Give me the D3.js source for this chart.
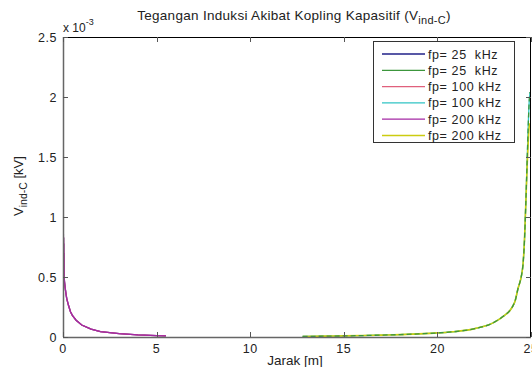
<!DOCTYPE html>
<html><head><meta charset="utf-8">
<script src="https://cdn.jsdelivr.net/npm/d3@7"></script>
<style>body{margin:0;background:#fff}text{font-family:"Liberation Sans",Arial,sans-serif;fill:#222}</style>
</head><body>
<svg id="c" width="532" height="367"></svg>
<script>
// Data (values in 1e-3 kV)
const seriesNames = ["fp= 25  kHz","fp= 25  kHz","fp= 100 kHz","fp= 100 kHz","fp= 200 kHz","fp= 200 kHz"];
const seriesColors = ["#202088","#3c963c","#e0607c","#30c4c4","#a428a4","#cccc10"];
const xTicks = [0,5,10,15,20,25];
const yTicks = [0,0.5,1,1.5,2,2.5];
const yTickLabels = ["0","0.5","1","1.5","2","2.5"];
// Left-end curve
const leftX = [0.02,0.025,0.03,0.035,0.04,0.045,0.05,0.06,0.08,0.1,0.15,0.2,0.3,0.4,0.5,0.7,1.0,1.5,2,3,4,5,5.5];
const leftV = [0.86,0.55,0.83,0.52,0.78,0.5,0.7,0.5,0.46,0.43,0.37,0.32,0.26,0.21,0.18,0.14,0.1,0.065,0.045,0.028,0.018,0.012,0.01];
// Right-end curve
const rightX = [12.8,14,15,16,17,18,19,20,21,22,23,23.5,24,24.15,24.3,24.5,24.57,24.65,24.72,24.8,24.85,24.9,24.95];
const rightV = [0.004,0.007,0.009,0.012,0.016,0.02,0.026,0.034,0.046,0.07,0.12,0.17,0.25,0.3,0.4,0.52,0.6,0.8,1.1,1.5,1.75,1.95,2.04];
const rightVy = [0.004,0.007,0.009,0.012,0.016,0.02,0.026,0.034,0.046,0.07,0.12,0.17,0.25,0.3,0.4,0.52,0.6,0.8,1.1,1.45,1.62,1.75,1.78];

const data = [
  {i:0, x:leftX, v:leftV},
  {i:1, x:rightX, v:rightV},
  {i:2, x:leftX, v:leftV},
  {i:3, x:rightX, v:rightV},
  {i:4, x:leftX, v:leftV},
  {i:5, x:rightX, v:rightVy}
];

const svg = d3.select("#c");
const L=63, R=531, T=37, B=337;
const x = d3.scaleLinear().domain([0,25]).range([L,R]);
const y = d3.scaleLinear().domain([0,2.5]).range([B,T]);

const order = [0,2,4,3,5,1];
const lineSmooth = d3.line().x(d=>x(d[0])).y(d=>y(d[1])).curve(d3.curveMonotoneX);
const lineRaw = d3.line().x(d=>x(d[0])).y(d=>y(d[1]));
svg.append("clipPath").attr("id","cp").append("rect").attr("x",L).attr("y",T).attr("width",R-L).attr("height",B-T);
const g = svg.append("g").attr("clip-path","url(#cp)");
order.forEach(k=>{
  const s = data[k];
  const pts = s.x.map((xv,j)=>[xv,s.v[j]]);
  const ln = (s.i % 2 === 0) ? lineRaw : lineSmooth;
  const p = g.append("path").attr("d",ln(pts)).attr("fill","none")
    .attr("stroke",seriesColors[s.i]).attr("stroke-width", s.i===5?1.6:1.3);
  if(s.i===1) p.attr("stroke-dasharray","5,3");
});

// axes box
const ax = svg.append("g");
ax.append("line").attr("x1",L).attr("x2",R).attr("y1",T+0.5).attr("y2",T+0.5).attr("stroke","#000");
ax.append("line").attr("x1",R-0.5).attr("x2",R-0.5).attr("y1",T).attr("y2",B).attr("stroke","#000");
ax.append("line").attr("x1",L).attr("x2",R).attr("y1",B+0.5).attr("y2",B+0.5).attr("stroke","#666").attr("stroke-width",1.5);
ax.append("line").attr("x1",L+0.5).attr("x2",L+0.5).attr("y1",T).attr("y2",B).attr("stroke","#666").attr("stroke-width",1.5);

// ticks
xTicks.forEach(t=>{
  const px = Math.round(x(t))+0.5;
  ax.append("line").attr("x1",px).attr("x2",px).attr("y1",B).attr("y2",B-5).attr("stroke","#555");
  ax.append("line").attr("x1",px).attr("x2",px).attr("y1",T).attr("y2",T+5).attr("stroke","#555");
  ax.append("text").attr("x",x(t)).attr("y",353).attr("text-anchor","middle").attr("font-size",12.5).attr("letter-spacing",0.5).text(t);
});
yTicks.forEach((t,j)=>{
  const py = Math.round(y(t))+0.5;
  ax.append("line").attr("x1",L).attr("x2",L+5).attr("y1",py).attr("y2",py).attr("stroke","#555");
  ax.append("line").attr("x1",R).attr("x2",R-5).attr("y1",py).attr("y2",py).attr("stroke","#555");
  ax.append("text").attr("x",57).attr("y",y(t)+4.5).attr("text-anchor","end").attr("font-size",12.5).attr("letter-spacing",0.5).text(yTickLabels[j]);
});

// exponent label
const ex = svg.append("text").attr("x",63).attr("y",32).attr("font-size",12);
ex.append("tspan").text("x 10");
ex.append("tspan").attr("dy",-7).attr("font-size",9).text("-3");

// title
const ti = svg.append("text").attr("x",294).attr("y",20).attr("text-anchor","middle").attr("font-size",13.5).attr("letter-spacing",0.3);
ti.append("tspan").text("Tegangan Induksi Akibat Kopling Kapasitif (V");
ti.append("tspan").attr("dy",4).attr("font-size",11).text("ind-C");
ti.append("tspan").attr("dy",-4).text(")");

// x label
svg.append("text").attr("x",295).attr("y",365).attr("text-anchor","middle").attr("font-size",13.5).text("Jarak [m]");

// y label
const yl = svg.append("text").attr("transform","translate(23,186) rotate(-90)").attr("text-anchor","middle").attr("font-size",13);
yl.append("tspan").text("V");
yl.append("tspan").attr("dy",4).attr("font-size",10.5).text("ind-C");
yl.append("tspan").attr("dy",-4).text(" [kV]");

// legend
const lg = svg.append("g");
lg.append("rect").attr("x",373.5).attr("y",41.5).attr("width",141).attr("height",101).attr("fill","#fff").attr("stroke","#333");
seriesNames.forEach((n,j)=>{
  const yy = 54 + j*16.3;
  lg.append("line").attr("x1",382).attr("x2",425).attr("y1",yy).attr("y2",yy).attr("stroke",seriesColors[j]).attr("stroke-width",1.3);
  lg.append("text").attr("x",428).attr("y",yy+4.5).attr("font-size",12.5).attr("letter-spacing",0.6).style("white-space","pre").text(n);
});
</script>
</body></html>
